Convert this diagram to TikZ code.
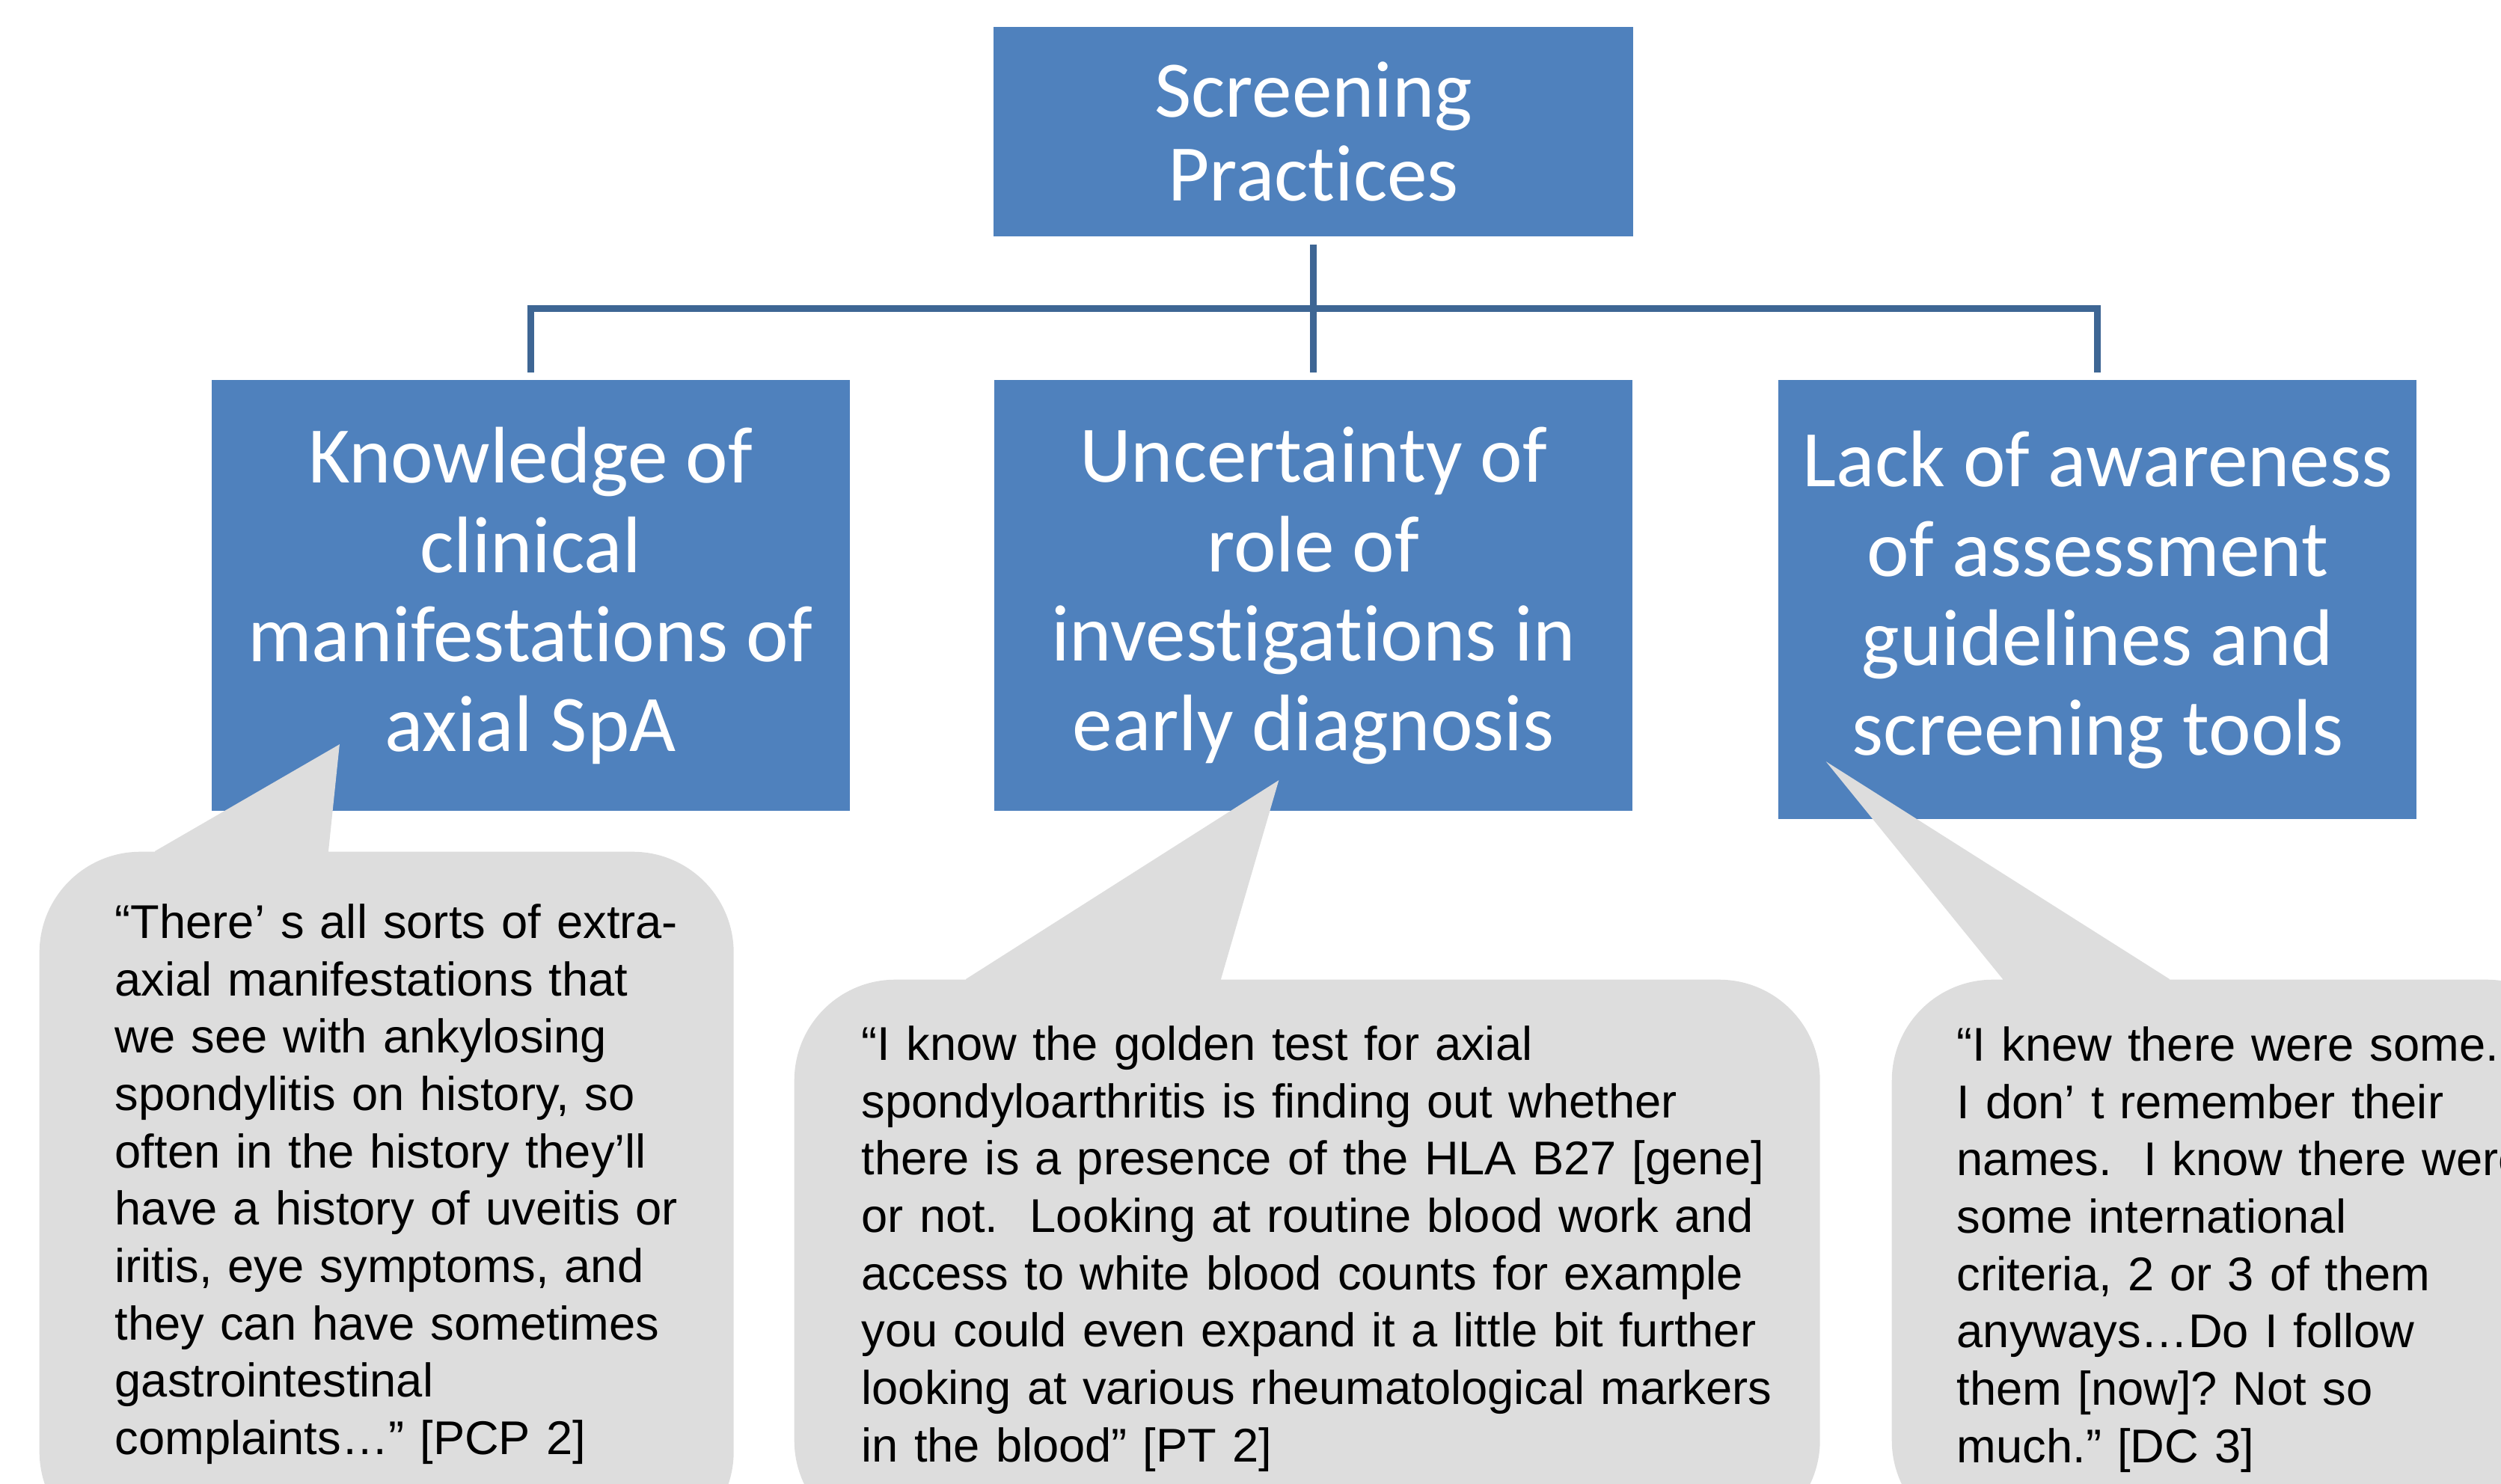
\documentclass[tikz,border=0pt]{standalone}
\usepackage{fontspec}
\setmainfont{Liberation Sans}
\newfontfamily\boxfont[Ligatures={NoCommon,NoContextual},Contextuals=NoAlternate]{Carlito}
\usetikzlibrary{positioning, calc}
\frenchspacing

\definecolor{boxblue}{HTML}{4F81BD}
\definecolor{linkblue}{HTML}{3E6694}
\definecolor{notegray}{HTML}{DDDDDD}

\begin{document}
\begin{tikzpicture}[
          block/.style={
              rectangle, fill=boxblue, text=white, align=center,
              inner sep=0pt, minimum width=8.53cm, minimum height=5.76cm,
              font=\boxfont\fontsize{30.5}{34}\selectfont
          },
          note/.style={
              rectangle, fill=notegray, rounded corners=1.35cm,
              anchor=north west, inner sep=0pt, align=left,
              font=\fontsize{18}{21.8}\selectfont
          },
          link/.style={draw=linkblue, line width=0.09cm},
      ]
          \useasboundingbox (0,0) rectangle (33.43,-19.83);
          \clip (0,0) rectangle (33.43,-19.83);

          % Theme blocks
          \node [block, minimum width=8.55cm, minimum height=2.8cm,
                 font=\boxfont\fontsize{30.5}{32}\selectfont] (screening) at (17.555,-1.76) {Screening\\Practices};
          \node [block, below=1.91cm of screening] (uncertainty) {Uncertainty of\\role of\\investigations in\\early diagnosis};
          \node [block, left=1.92cm of uncertainty] (knowledge) {Knowledge of\\clinical\\manifestations of\\axial SpA};
          \node [block, minimum height=5.87cm, anchor=north west] (awareness)
                at ([xshift=1.94cm]uncertainty.north east) {Lack of awareness\\of assessment\\guidelines and\\screening tools};

          % Tree lines
          \coordinate (bus) at ($(screening.south)!0.5!(uncertainty.north)$);
          \draw [link, shorten <=0.1cm, shorten >=0.1cm] (screening.south) -- (uncertainty.north);
          \draw [link, shorten <=0.1cm, shorten >=0.1cm] (knowledge.north) |- (bus) -| (awareness.north);

          % Quote bubbles
          \node [note, text width=9.28cm, text height=1.16cm, text depth=8.21cm,
                 execute at begin node={\leftskip=1.01cm}] (quote1) at (0.52,-11.38)
                {“There’ s all sorts of extra-\\
                 axial manifestations that\\
                 we see with ankylosing\\
                 spondylitis on history, so\\
                 often in the history they’ll\\
                 have a history of uveitis or\\
                 iritis, eye symptoms, and\\
                 they can have sometimes\\
                 gastrointestinal\\
                 complaints…” [PCP 2]};
          \node [note, text width=13.71cm, text height=1.08cm, text depth=6.43cm,
                 execute at begin node={\leftskip=0.90cm}] (quote2) at (10.61,-13.09)
                {“I know the golden test for axial\\
                 spondyloarthritis is finding out whether\\
                 there is a presence of the HLA B27 [gene]\\
                 or not.\ \ Looking at routine blood work and\\
                 access to white blood counts for example\\
                 you could even expand it a little bit further\\
                 looking at various rheumatological markers\\
                 in the blood” [PT 2]};
          \node [note, text width=9.3cm, text height=1.09cm, text depth=6.42cm,
                 execute at begin node={\leftskip=0.87cm}] (quote3) at (25.28,-13.09)
                {“I knew there were some.\\
                 I don’ t remember their\\
                 names.\ \ I know there were\\
                 some international\\
                 criteria, 2 or 3 of them\\
                 anyways…Do I follow\\
                 them [now]? Not so\\
                 much.” [DC 3]};

          % Pointers
          \coordinate (tip1) at ([shift={(1.72,0.90)}]knowledge.south west);
          \coordinate (tip2) at ([shift={(3.81,0.42)}]uncertainty.south west);
          \coordinate (tip3) at ([shift={(0.64,0.78)}]awareness.south west);
          \fill [notegray] ([xshift=1.55cm]quote1.north west) -- (tip1) -- ([xshift=3.87cm]quote1.north west)
              -- ++(0,-0.2) -- ([shift={(1.55,-0.2)}]quote1.north west) -- cycle;
          \fill [notegray] ([xshift=2.30cm]quote2.north west) -- (tip2) -- ([xshift=5.71cm]quote2.north west)
              -- ++(0,-0.2) -- ([shift={(2.30,-0.2)}]quote2.north west) -- cycle;
          \fill [notegray] ([xshift=1.49cm]quote3.north west) -- (tip3) -- ([xshift=3.72cm]quote3.north west)
              -- ++(0,-0.2) -- ([shift={(1.49,-0.2)}]quote3.north west) -- cycle;
\end{tikzpicture}
\end{document}
